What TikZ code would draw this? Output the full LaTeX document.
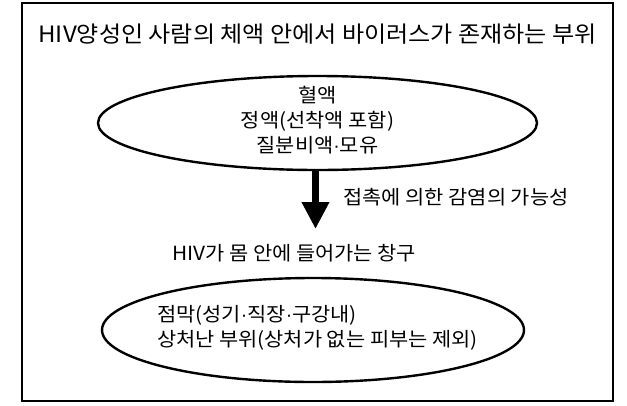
\documentclass[tikz,border=0pt]{standalone}
\usepackage{fontspec}
\newfontfamily\krfont[FakeStretch=1.07]{Noto Sans CJK KR}
\newfontfamily\dotfont{Liberation Sans}
\newcommand\mdot{{\dotfont ·}}
\usetikzlibrary{arrows.meta,positioning,shapes.geometric}

\begin{document}
\begin{tikzpicture}[x=1pt, y=-1pt, every node/.style={font={\krfont}}, >={Triangle[length=27pt, width=26pt]}]
                     \useasboundingbox (0,0) rectangle (627,405);
                     \draw[line width=1.8pt] (22,3) rectangle (613,401);

                     \node at (317.5,34) [font={\krfont\fontsize{22.5}{26}\selectfont}] (title) {HIV양성인 사람의 체액 안에서 바이러스가 존재하는 부위};

                     \node at (317.5,123) [ellipse, draw, line width=2.4pt, minimum width=439pt, minimum height=94pt] (fluid) {};
                         \node at (317.5,120) [align=center, font={\krfont\fontsize{19.5}{25}\selectfont}] (fluidtxt) {혈액\\정액(선착액 포함)\\질분비액\mdot 모유};

                     \coordinate (tip) at (315.5,229);
                         \draw [line width=7pt, ->] (fluid.south -| tip) -- (tip) node[pos=0.45, right=21pt, font={\krfont\fontsize{19.5}{23}\selectfont}] (contact) {접촉에 의한 감염의 가능성};
                     \node at (168.5,253) [anchor=west, font={\krfont\fontsize{19.5}{23}\selectfont}] (window) {HIV가 몸 안에 들어가는 창구};

                     \node at (313,330) [ellipse, draw, line width=2.4pt, minimum width=422pt, minimum height=104pt] (mucosa) {};
                         \node at (153.5,328) [anchor=west, align=left, font={\krfont\fontsize{19.5}{25.5}\selectfont}] (mucosatxt) {점막(성기\mdot 직장\mdot 구강내)\\상처난 부위(상처가 없는 피부는 제외)};
                 \end{tikzpicture}
\end{document}
